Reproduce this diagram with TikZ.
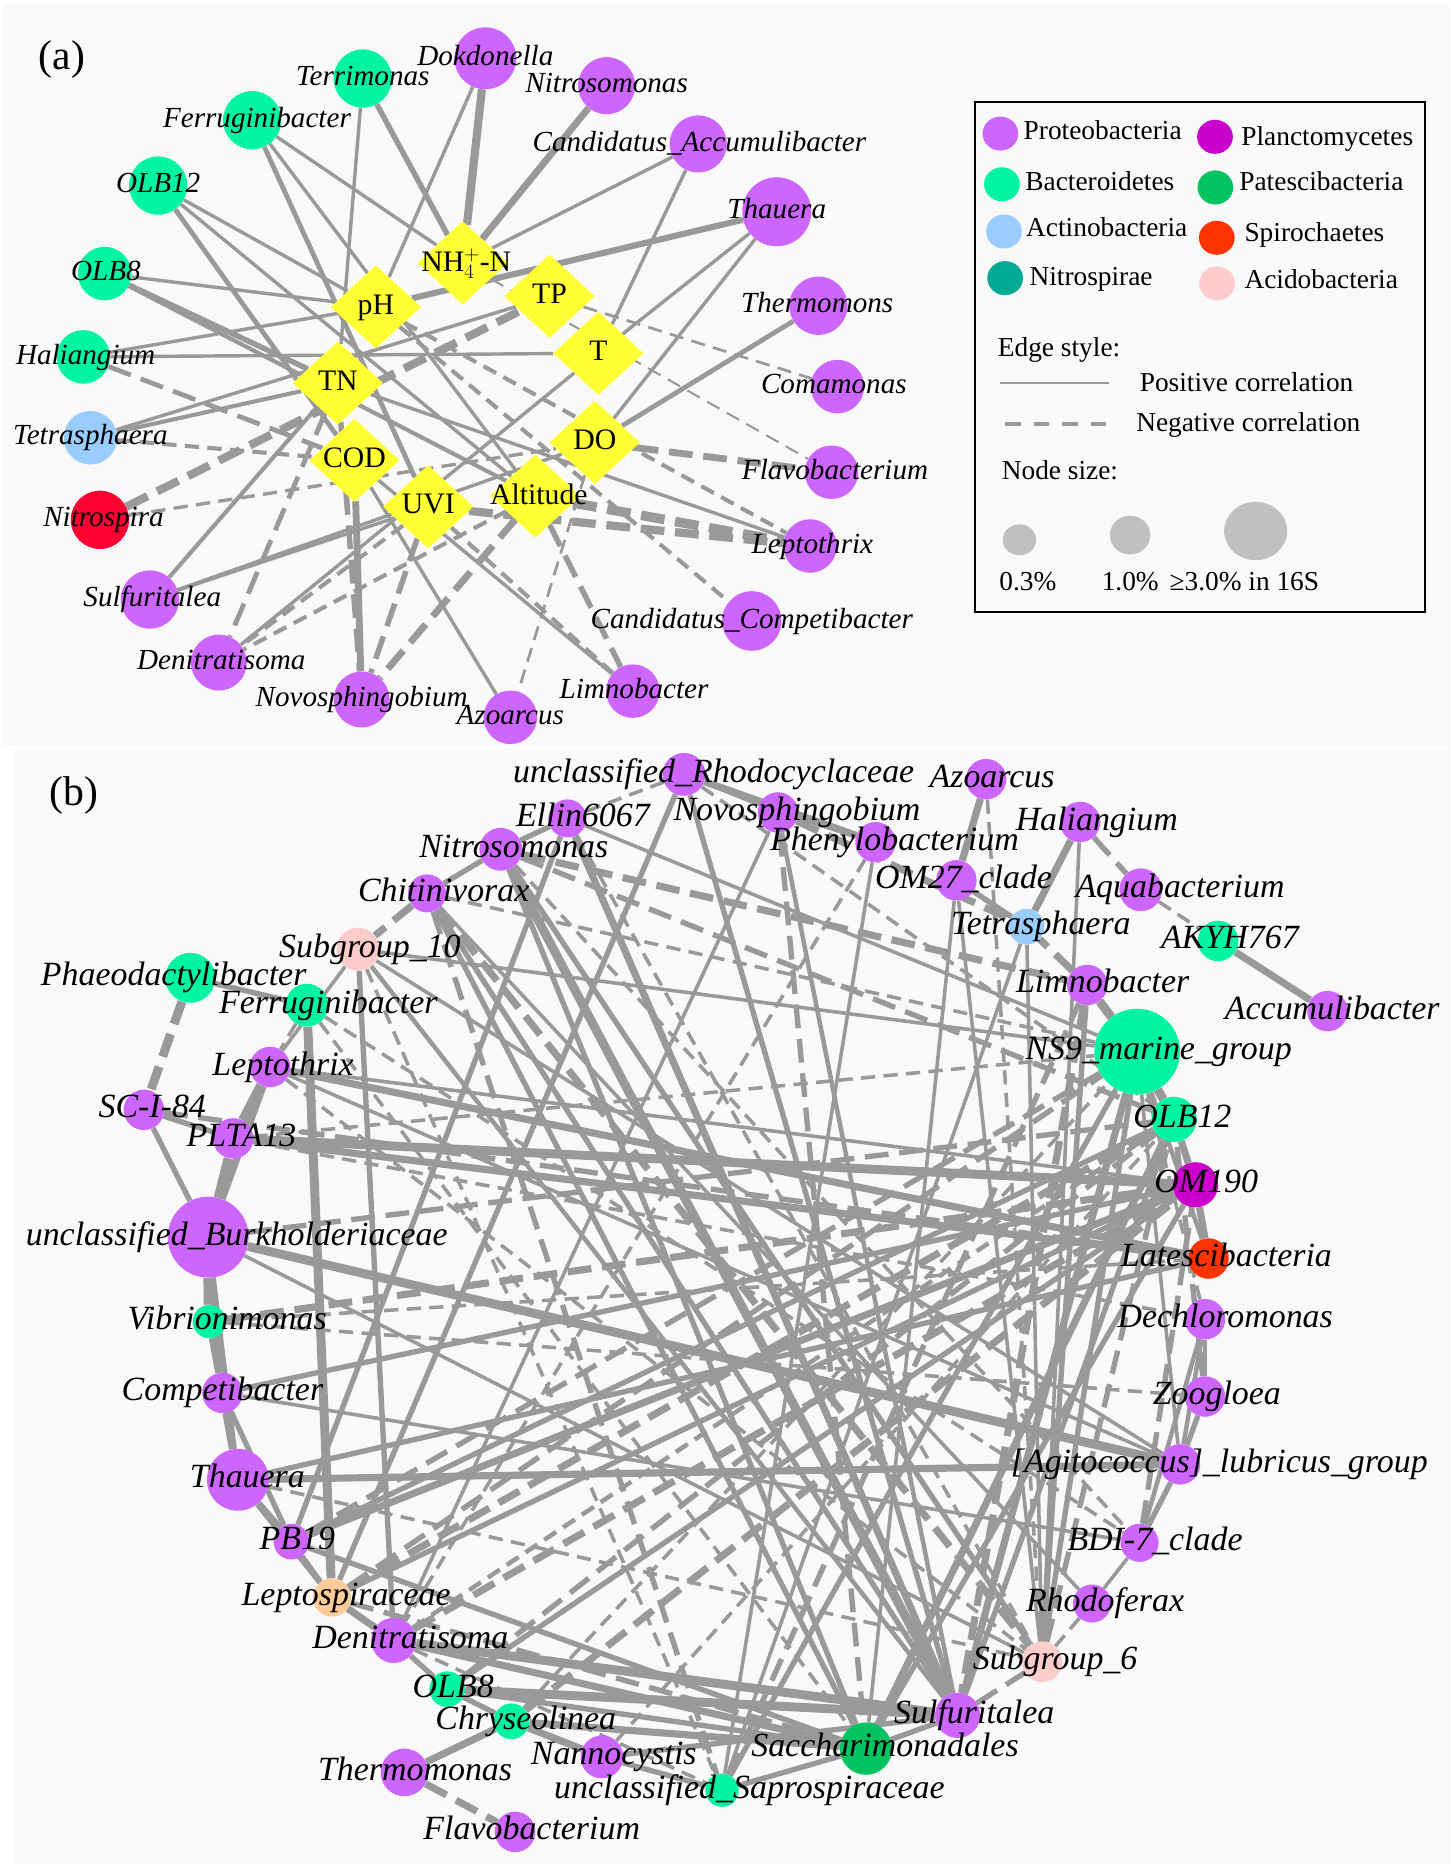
\documentclass[tikz,border=0pt]{standalone}
\usepackage{fontspec}
\setmainfont{Liberation Serif}
\usetikzlibrary{shapes.geometric}
\pgfdeclarelayer{bgl}
\pgfdeclarelayer{edg}
\pgfdeclarelayer{lbl}
\pgfsetlayers{bgl,edg,main,lbl}
\definecolor{proteo}{HTML}{CC66FF}
\definecolor{bacte}{HTML}{00F5A0}
\definecolor{actino}{HTML}{99CCFF}
\definecolor{nitrosp}{HTML}{00A896}
\definecolor{plancto}{HTML}{CC00CC}
\definecolor{patesc}{HTML}{00C462}
\definecolor{spiro}{HTML}{FF3300}
\definecolor{acido}{HTML}{FFCCCC}
\definecolor{nitrored}{HTML}{FF0033}
\definecolor{leptosp}{HTML}{FFCC99}
\definecolor{envy}{HTML}{FFFF33}
\definecolor{edgec}{HTML}{999999}
\definecolor{panelbg}{HTML}{F9F9F9}
\definecolor{sizegray}{HTML}{C0C0C0}
\tikzset{
  tax/.style={circle,inner sep=0pt,draw=none},
  envf/.style={diamond,fill=envy,inner sep=0pt,minimum width=76pt,minimum height=70pt},
  la/.style={font=\fontsize{24.5}{26}\selectfont\itshape,inner sep=0pt,text height=17pt,text depth=5pt},
  lb/.style={font=\fontsize{28.5}{30}\selectfont\itshape,inner sep=0pt,text height=19.5pt,text depth=6pt},
  le/.style={font=\fontsize{25}{27}\selectfont,inner sep=0pt,text height=17pt,text depth=5pt},
  lg/.style={font=\fontsize{23}{25}\selectfont,inner sep=0pt,anchor=west,text height=16pt,text depth=5pt},
  posedge/.style={draw=edgec,line width=#1},
  negedge/.style={draw=edgec,line width=#1,dash pattern=on 12pt off 7pt},
  negedgeT/.style={draw=edgec,line width=#1,dash pattern=on 20pt off 9pt},
}
\newcommand{\mkT}[8]{%
  \node[tax,fill=#5,minimum size=#4pt] (#1) at (#2,#3) {};%
  \begin{pgfonlayer}{lbl}\node[#8] at ([xshift=#6pt]#1.center) {#7};\end{pgfonlayer}}
% panel (a) connectors
\newcommand{\eP}[3]{\draw[posedge=1.15*#3pt] (#1) -- (#2);}
\newcommand{\eN}[3]{\ifdim #3pt<3.5pt \draw[negedge=1.15*#3pt] (#1) -- (#2);\else\draw[negedgeT=1.15*#3pt] (#1) -- (#2);\fi}
% panel (b) connectors
\newcommand{\bP}[3]{\draw[posedge=1.5*#3pt] (#1) -- (#2);}
\newcommand{\bN}[3]{\ifdim #3pt<2.6pt \draw[negedge=1.5*#3pt] (#1) -- (#2);\else\draw[negedgeT=1.5*#3pt] (#1) -- (#2);\fi}
\begin{document}
\begin{tikzpicture}[x=1pt,y=-1pt]
\useasboundingbox (0,0) rectangle (1219,1567);
\begin{pgfonlayer}{bgl}
\fill[white] (0,0) rectangle (1219,1567);
\fill[panelbg] (2,3) rectangle (1219,627);
\fill[panelbg] (12,630) rectangle (1219,1567);
\end{pgfonlayer}
% ---------------- panel (a)
\node[font=\fontsize{35}{37}\selectfont,inner sep=0pt] (pa) at (52,50) {(a)};
\mkT{aTer}{305}{66}{49}{bacte}{0}{Terrimonas}{la}
\mkT{aDok}{408}{49}{52}{proteo}{0}{Dokdonella}{la}
\mkT{aNis}{510}{72}{48}{proteo}{0}{Nitrosomonas}{la}
\mkT{aAcc}{587}{121}{48}{proteo}{1}{Candidatus\_Accumulibacter}{la}
\mkT{aTha}{653}{178}{58}{proteo}{0}{Thauera}{la}
\mkT{aThe}{688}{257}{49}{proteo}{-1}{Thermomons}{la}
\mkT{aCom}{704}{325}{45}{proteo}{-3}{Comamonas}{la}
\mkT{aFla}{699}{397}{45}{proteo}{3}{Flavobacterium}{la}
\mkT{aLep}{681}{459}{45}{proteo}{2}{Leptothrix}{la}
\mkT{aCmp}{632}{522}{50}{proteo}{0}{Candidatus\_Competibacter}{la}
\mkT{aLim}{532}{581}{45}{proteo}{1}{Limnobacter}{la}
\mkT{aAzo}{429}{603}{45}{proteo}{0}{Azoarcus}{la}
\mkT{aNov}{304}{588}{47}{proteo}{0}{Novosphingobium}{la}
\mkT{aDen}{184}{557}{47}{proteo}{2}{Denitratisoma}{la}
\mkT{aSul}{126}{504}{49}{proteo}{2}{Sulfuritalea}{la}
\mkT{aNsp}{84}{437}{49}{nitrored}{3}{Nitrospira}{la}
\mkT{aTet}{76}{368}{45}{actino}{0}{Tetrasphaera}{la}
\mkT{aHal}{70}{300}{45}{bacte}{2}{Haliangium}{la}
\mkT{aOL8}{88}{230}{45}{bacte}{1}{OLB8}{la}
\mkT{aO12}{133}{156}{49}{bacte}{0}{OLB12}{la}
\mkT{aFer}{212}{101}{49}{bacte}{4}{Ferruginibacter}{la}
\node[envf] (dNH) at (389,221) {};
\node[envf] (dpH) at (316,258) {};
\node[envf] (dTP) at (462,249) {};
\node[envf] (dT) at (503,297) {};
\node[envf] (dTN) at (284,322) {};
\node[envf] (dCOD) at (298,387) {};
\node[envf] (dUVI) at (360,426) {};
\node[envf] (dAlt) at (450,417) {};
\node[envf] (dDO) at (500,372) {};
\begin{pgfonlayer}{lbl}
\node[le] at (392,222) {NH$_{4}^{+}$-N};
\node[le] at (dpH) {pH};
\node[le] at (dTP) {TP};
\node[le] at (dT) {T};
\node[le] at (dTN) {TN};
\node[le] at (dCOD) {COD};
\node[le] at (dUVI) {UVI};
\node[le] at (453,418) {Altitude};
\node[le] at (dDO) {DO};
\end{pgfonlayer}
\begin{pgfonlayer}{edg}
\eP{aTer}{dNH}{4}
\eP{aTer}{dTN}{2.5}
\eP{aDok}{dNH}{6}
\eP{aDok}{dpH}{2.5}
\eP{aNis}{dNH}{5}
\eP{aAcc}{dNH}{2.5}
\eP{aAcc}{dT}{2.5}
\eP{aTha}{dpH}{4.5}
\eP{aTha}{dT}{2.5}
\eP{aTha}{dDO}{2.5}
\eP{aThe}{dDO}{3.5}
\eP{aFer}{dNH}{2.5}
\eP{aFer}{dUVI}{3.5}
\eP{aFer}{dAlt}{2.5}
\eP{aO12}{dpH}{2.5}
\eP{aO12}{dCOD}{3.5}
\eP{aO12}{dAlt}{2.5}
\eP{aOL8}{dpH}{2.5}
\eP{aOL8}{dTN}{4}
\eP{aOL8}{dAlt}{3}
\eP{aHal}{dpH}{2.5}
\eP{aHal}{dT}{2.5}
\eP{aTet}{dTN}{3}
\eP{aTet}{dTP}{2.5}
\eP{aSul}{dTN}{3}
\eP{aSul}{dUVI}{2.5}
\eP{aSul}{dDO}{2.5}
\eP{aDen}{dT}{2.5}
\eP{aNov}{dCOD}{5}
\eP{aAzo}{dCOD}{2.5}
\eP{aLim}{dCOD}{2.5}
\eP{dTN}{aLep}{2.5}
\eN{dTP}{aCom}{2}
\eN{dNH}{aFla}{1.5}
\eN{dDO}{aFla}{5}
\eN{dpH}{aLep}{3}
\eN{dAlt}{aLep}{7}
\eN{dUVI}{aLep}{6}
\eN{dpH}{aCmp}{3}
\eN{dAlt}{aLim}{4}
\eN{dUVI}{aLim}{3}
\eN{dDO}{aAzo}{2}
\eN{dTN}{aNov}{4}
\eN{dUVI}{aNov}{4}
\eN{dAlt}{aNov}{5}
\eN{dTN}{aDen}{3.5}
\eN{dUVI}{aDen}{3}
\eN{dAlt}{aDen}{3}
\eN{aNsp}{dTP}{6}
\eN{aNsp}{dDO}{2.5}
\eN{aTet}{dCOD}{3}
\eN{aHal}{dCOD}{3.5}
\end{pgfonlayer}
% ---------------- legend
\draw[line width=1.6pt] (820,85.5) rectangle (1198,514.5);
\node[tax,fill=proteo,minimum width=30pt,minimum height=28.6pt,ellipse] (lg1) at (841,112.3) {};
\node[tax,fill=bacte,minimum width=30pt,minimum height=28.6pt,ellipse] (lg2) at (842.3,154.9) {};
\node[tax,fill=actino,minimum width=30pt,minimum height=28.6pt,ellipse] (lg3) at (844,194.6) {};
\node[tax,fill=nitrosp,minimum width=30pt,minimum height=28.6pt,ellipse] (lg4) at (845,233.8) {};
\node[tax,fill=plancto,minimum width=30pt,minimum height=28.6pt,ellipse] (lg5) at (1021.4,115) {};
\node[tax,fill=patesc,minimum width=30pt,minimum height=28.6pt,ellipse] (lg6) at (1021.7,157.6) {};
\node[tax,fill=spiro,minimum width=30pt,minimum height=28.6pt,ellipse] (lg7) at (1022.9,199.9) {};
\node[tax,fill=acido,minimum width=30pt,minimum height=28.6pt,ellipse] (lg8) at (1023.2,238.2) {};
\node[lg] (lt1) at (860.4,112) {Proteobacteria};
\node[lg] (lt2) at (861.8,155) {Bacteroidetes};
\node[lg] (lt3) at (862.5,193) {Actinobacteria};
\node[lg] (lt4) at (865.3,234.7) {Nitrospirae};
\node[lg] (lt5) at (1043.4,117) {Planctomycetes};
\node[lg] (lt6) at (1041.7,155) {Patescibacteria};
\node[lg] (lt7) at (1046,197.5) {Spirochaetes};
\node[lg] (lt8) at (1046,237.4) {Acidobacteria};
\node[lg] (les) at (838.7,293.8) {Edge style:};
\coordinate (ps1) at (841,321.8);
\coordinate (ps2) at (932,321.8);
\draw[edgec,line width=1.2pt] (ps1) -- (ps2);
\node[lg] (lpos) at (958,323.5) {Positive correlation};
\coordinate (ng1) at (845,356.6);
\coordinate (ng2) at (930,356.6);
\draw[edgec,line width=3.5pt,dash pattern=on 13pt off 11pt] (ng1) -- (ng2);
\node[lg] (lneg) at (955,357) {Negative correlation};
\node[lg] (lns) at (842,398) {Node size:};
\node[tax,fill=sizegray,ellipse,minimum width=28pt,minimum height=26pt] (sz1) at (857,453.8) {};
\node[tax,fill=sizegray,ellipse,minimum width=34pt,minimum height=32.6pt] (sz2) at (950,449.8) {};
\node[tax,fill=sizegray,ellipse,minimum width=53pt,minimum height=49pt] (sz3) at (1055.6,446.4) {};
\node[lg] (ls1) at (840,491) {0.3\%};
\node[lg] (ls2) at (926,491) {1.0\%};
\node[lg] (ls3) at (983,491) {≥3.0\% in 16S};
% ---------------- panel (b)
\node[font=\fontsize{35}{37}\selectfont,inner sep=0pt] (pb) at (62,669) {(b)};
\mkT{bRho}{575}{651}{36}{proteo}{25}{unclassified\_Rhodocyclaceae}{lb}
\mkT{bAzo}{829}{655}{34}{proteo}{5}{Azoarcus}{lb}
\mkT{bEll}{477}{688}{32}{proteo}{13}{Ellin6067}{lb}
\mkT{bNov}{654}{683}{34}{proteo}{16}{Novosphingobium}{lb}
\mkT{bPhe}{736}{708}{34}{proteo}{16}{Phenylobacterium}{lb}
\mkT{bHal}{908}{691}{34}{proteo}{14}{Haliangium}{lb}
\mkT{bNis}{421}{714}{36}{proteo}{11}{Nitrosomonas}{lb}
\mkT{bOM27}{804}{740}{34}{proteo}{6}{OM27\_clade}{lb}
\mkT{bAqu}{959}{748}{36}{proteo}{33}{Aquabacterium}{lb}
\mkT{bChi}{359}{751}{32}{proteo}{14}{Chitinivorax}{lb}
\mkT{bTet}{863}{779}{30}{actino}{12}{Tetrasphaera}{lb}
\mkT{bAKY}{1024}{791}{34}{bacte}{10}{AKYH767}{lb}
\mkT{bS10}{301}{798}{36}{acido}{10}{Subgroup\_10}{lb}
\mkT{bPha}{160}{822}{42}{bacte}{-14}{Phaeodactylibacter}{lb}
\mkT{bLim}{914}{828}{34}{proteo}{13}{Limnobacter}{lb}
\mkT{bFer}{258}{845}{36}{bacte}{18}{Ferruginibacter}{lb}
\mkT{bAcc}{1116}{850}{34}{proteo}{4}{Accumulibacter}{lb}
\mkT{bNS9}{956}{884}{72}{bacte}{18}{NS9\_marine\_group}{lb}
\mkT{bLep}{227}{897}{34}{proteo}{11}{Leptothrix}{lb}
\mkT{bSCI}{121}{933}{34}{proteo}{7}{SC-I-84}{lb}
\mkT{bO12}{987}{941}{38}{bacte}{7}{OLB12}{lb}
\mkT{bPLT}{196}{957}{34}{proteo}{7}{PLTA13}{lb}
\mkT{bOM190}{1005}{996}{38}{plancto}{9}{OM190}{lb}
\mkT{bBur}{175}{1040}{68}{proteo}{24}{unclassified\_Burkholderiaceae}{lb}
\mkT{bLat}{1016}{1058}{34}{spiro}{15}{Latescibacteria}{lb}
\mkT{bVib}{176}{1111}{28}{bacte}{15}{Vibrionimonas}{lb}
\mkT{bDec}{1013}{1109}{34}{proteo}{17}{Dechloromonas}{lb}
\mkT{bCmp}{187}{1171}{34}{proteo}{0}{Competibacter}{lb}
\mkT{bZoo}{1013}{1174}{34}{proteo}{10}{Zoogloea}{lb}
\mkT{bAgi}{992}{1231}{34}{proteo}{33}{[Agitococcus]\_lubricus\_group}{lb}
\mkT{bTha}{200}{1244}{52}{proteo}{8}{Thauera}{lb}
\mkT{bPB}{245}{1296}{30}{proteo}{5}{PB19}{lb}
\mkT{bBDI}{958}{1297}{32}{proteo}{13}{BDI-7\_clade}{lb}
\mkT{bLsp}{279}{1343}{32}{leptosp}{12}{Leptospiraceae}{lb}
\mkT{bRhf}{918}{1348}{32}{proteo}{11}{Rhodoferax}{lb}
\mkT{bDen}{331}{1379}{38}{proteo}{14}{Denitratisoma}{lb}
\mkT{bS6}{876}{1397}{34}{acido}{11}{Subgroup\_6}{lb}
\mkT{bO8}{376}{1420}{30}{bacte}{5}{OLB8}{lb}
\mkT{bSul}{805}{1442}{38}{proteo}{14}{Sulfuritalea}{lb}
\mkT{bChr}{430}{1447}{30}{bacte}{12}{Chryseolinea}{lb}
\mkT{bSac}{728}{1470}{44}{patesc}{16}{Saccharimonadales}{lb}
\mkT{bNan}{506}{1477}{36}{proteo}{10}{Nannocystis}{lb}
\mkT{bThm}{340}{1490}{40}{proteo}{9}{Thermomonas}{lb}
\mkT{bSap}{607}{1505}{28}{bacte}{23}{unclassified\_Saprospiraceae}{lb}
\mkT{bFla}{433}{1540}{34}{proteo}{14}{Flavobacterium}{lb}
\begin{pgfonlayer}{edg}
\bP{bLep}{bPLT}{5}
\bP{bPLT}{bBur}{5}
\bP{bSCI}{bPLT}{3}
\bP{bSCI}{bBur}{3}
\bP{bLep}{bBur}{4}
\bP{bBur}{bVib}{6}
\bP{bVib}{bCmp}{4}
\bP{bCmp}{bTha}{4}
\bP{bBur}{bCmp}{3}
\bP{bBur}{bTha}{3}
\bP{bTha}{bPB}{4}
\bP{bCmp}{bPB}{3}
\bP{bPB}{bLsp}{3}
\bP{bLsp}{bDen}{4}
\bP{bTha}{bLsp}{3}
\bP{bDen}{bO8}{3}
\bP{bO8}{bChr}{3}
\bP{bChr}{bNan}{4}
\bP{bNan}{bSap}{3}
\bP{bSap}{bSac}{3}
\bP{bSac}{bSul}{3}
\bP{bThm}{bChr}{4}
\bN{bThm}{bFla}{4}
\bN{bSul}{bS6}{3}
\bN{bS6}{bRhf}{2}
\bP{bRhf}{bBDI}{2}
\bP{bBDI}{bAgi}{3}
\bP{bBDI}{bDec}{2.5}
\bP{bAgi}{bZoo}{3}
\bP{bAgi}{bDec}{2.5}
\bP{bZoo}{bDec}{2}
\bP{bLat}{bOM190}{4}
\bP{bOM190}{bO12}{4}
\bP{bO12}{bNS9}{5}
\bP{bNS9}{bLim}{5}
\bN{bLim}{bTet}{4}
\bP{bTet}{bHal}{4}
\bP{bTet}{bOM27}{3}
\bN{bHal}{bAqu}{3}
\bN{bAqu}{bAKY}{2}
\bP{bAKY}{bAcc}{4}
\bP{bAzo}{bOM27}{4}
\bN{bRho}{bEll}{2}
\bP{bEll}{bNis}{3}
\bP{bNis}{bChi}{3}
\bN{bChi}{bS10}{4}
\bP{bPha}{bFer}{3}
\bN{bPha}{bSCI}{5}
\bN{bFer}{bLep}{2}
\bP{bS10}{bLep}{2}
\bP{bRho}{bNov}{2}
\bP{bNov}{bPhe}{2}
\bP{bRho}{bPhe}{4}
\bN{bNov}{bTet}{4}
\bP{bNis}{bSul}{5}
\bP{bEll}{bSul}{4}
\bP{bRho}{bSul}{3}
\bP{bChi}{bSul}{3}
\bP{bNis}{bSac}{3}
\bP{bChi}{bSac}{3}
\bP{bNis}{bS6}{3}
\bN{bEll}{bS6}{2}
\bP{bNov}{bSul}{2.5}
\bP{bPhe}{bSap}{2}
\bP{bOM27}{bS6}{2}
\bP{bTet}{bS6}{2}
\bN{bLim}{bSul}{4}
\bP{bLim}{bS6}{3}
\bP{bLep}{bLat}{4}
\bP{bLep}{bOM190}{2}
\bP{bPLT}{bOM190}{5}
\bP{bPLT}{bLat}{4}
\bP{bBur}{bAgi}{5}
\bP{bTha}{bAgi}{4}
\bP{bPB}{bOM190}{4}
\bP{bPB}{bO12}{3}
\bP{bLsp}{bOM190}{3}
\bP{bDen}{bSul}{5}
\bP{bO8}{bSul}{5}
\bP{bChr}{bSac}{4}
\bP{bNan}{bSul}{3}
\bP{bSac}{bO12}{4}
\bP{bSac}{bOM190}{3}
\bP{bSap}{bNS9}{3}
\bP{bSul}{bNS9}{4}
\bP{bSul}{bO12}{3}
\bP{bS6}{bNS9}{3}
\bN{bS6}{bO12}{3}
\bN{bBDI}{bOM190}{3}
\bP{bFer}{bLsp}{5}
\bP{bS10}{bDen}{3}
\bP{bS10}{bSul}{2.5}
\bN{bVib}{bOM190}{4}
\bN{bVib}{bLat}{2}
\bN{bNis}{bO12}{3}
\bN{bNis}{bLim}{4}
\bN{bChi}{bNS9}{2}
\bP{bEll}{bNS9}{2}
\bP{bS10}{bNS9}{2}
\bP{bRho}{bLsp}{3}
\bP{bNov}{bDen}{2}
\bP{bEll}{bPB}{3}
\bN{bS10}{bSap}{2}
\bN{bFer}{bSac}{2}
\bN{bChi}{bSap}{3}
\bN{bChi}{bS6}{4}
\bN{bLep}{bS6}{2}
\bN{bPLT}{bNS9}{2}
\bP{bCmp}{bBDI}{2}
\bN{bVib}{bZoo}{2}
\bP{bCmp}{bOM190}{3}
\bP{bTha}{bLat}{3}
\bN{bLsp}{bNS9}{3}
\bN{bLsp}{bO12}{4}
\bN{bDen}{bO12}{2.5}
\bN{bDen}{bOM190}{4}
\bN{bPB}{bNS9}{3}
\bP{bO8}{bOM190}{3}
\bN{bO8}{bO12}{3}
\bN{bChr}{bNS9}{2}
\bN{bChr}{bOM190}{4}
\bN{bNan}{bO12}{2}
\bN{bSap}{bLim}{3}
\bN{bBur}{bO12}{3}
\bP{bLep}{bAgi}{2}
\bN{bPLT}{bDec}{2}
\bN{bSCI}{bLat}{3}
\bN{bRho}{bO12}{2}
\bN{bAzo}{bS6}{2}
\bP{bHal}{bS6}{2}
\bN{bPhe}{bDen}{2}
\bN{bNov}{bSac}{3}
\bP{bOM27}{bSac}{2}
\bP{bTet}{bSap}{2}
\bN{bDec}{bNS9}{2}
\bN{bZoo}{bO12}{3}
\bP{bAgi}{bNS9}{2}
\bP{bLat}{bNS9}{2.5}
\bN{bNis}{bBDI}{2}
\bP{bChi}{bRhf}{2}
\bP{bS10}{bAgi}{2}
\bN{bFer}{bBDI}{2}
\bP{bBur}{bS6}{2}
\bN{bTha}{bS6}{2}
\bP{bPB}{bSac}{3}
\bN{bLsp}{bSac}{3}
\bP{bDen}{bSac}{4}
\bN{bDen}{bSap}{2}
\bP{bO8}{bSac}{3}
\end{pgfonlayer}
\end{tikzpicture}
\end{document}
